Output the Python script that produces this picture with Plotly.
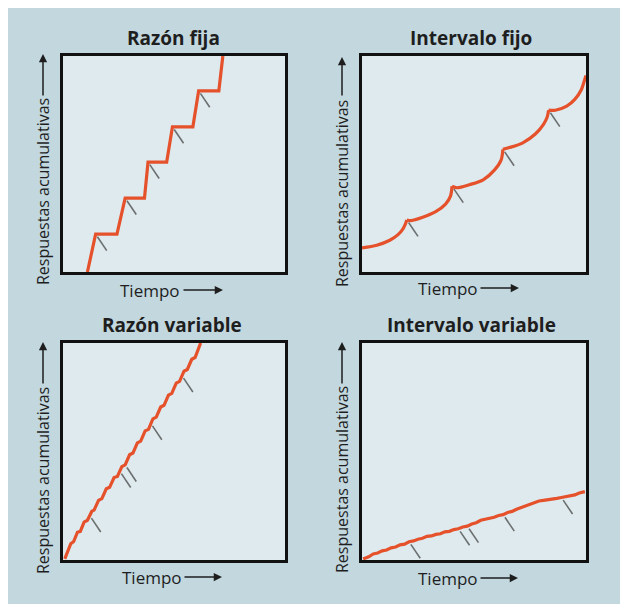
import plotly.graph_objects as go

# ---------------- data (normalised 0-100 units) -------------
titles = ["Razón fija", "Intervalo fijo", "Razón variable", "Intervalo variable"]
y_label = "Respuestas acumulativas"
x_label = "Tiempo"

# Razón fija (fixed ratio): staircase
fr_x = [11.0, 14.7, 24.3, 28.0, 36.7, 38.3, 46.7, 49.3, 58.5, 61.1, 70.2, 72.0]
fr_y = [0.0, 17.5, 17.5, 34.2, 34.2, 50.9, 50.9, 67.2, 67.2, 83.9, 83.9, 100.0]
fr_rx = [14.7, 28.0, 38.3, 49.3, 61.1]
fr_ry = [17.5, 34.2, 50.9, 67.2, 83.9]

# Intervalo fijo (fixed interval): scallops
fi_x = [0.0, 6.6, 12.4, 16.1, 18.3, 19.3, 20.0, 21.9, 27.1, 32.9, 37.3, 39.5, 40.2,
        42.4, 48.2, 54.1, 59.2, 62.1, 62.9, 65.8, 71.6, 77.5, 81.1, 82.6, 83.3,
        86.3, 91.4, 95.0, 97.9, 99.4, 100.0]
fi_y = [11.2, 12.4, 14.7, 17.3, 20.0, 22.0, 24.1, 23.8, 25.3, 27.9, 31.4, 35.1, 39.7,
        39.0, 40.5, 42.7, 47.3, 51.8, 56.8, 57.6, 59.7, 64.0, 68.5, 71.5, 74.9,
        74.9, 76.8, 79.9, 84.4, 89.0, 91.0]
fi_rx = [20.0, 40.2, 62.9, 83.3]
fi_ry = [24.1, 39.7, 56.8, 74.9]

# Razón variable (variable ratio): steep jagged line
vr_x = [0.8, 2.5, 3.5, 4.8, 5.6, 6.5, 7.8, 8.6, 9.5, 11.0, 12.0, 13.0, 14.0, 15.0, 16.0,
        17.5, 18.5, 19.5, 21.0, 22.0, 23.0, 24.5, 25.5, 26.5, 28.0, 29.0, 30.0, 31.5,
        32.5, 33.5, 35.0, 36.0, 37.0, 38.5, 39.5, 40.5, 42.0, 43.0, 44.0, 45.5, 46.5,
        47.5, 49.0, 50.0, 51.0, 52.5, 53.5, 54.5, 56.0, 57.0, 58.0, 59.5, 60.5, 61.5, 62.0]
vr_y = [0.5, 4.5, 7.5, 8.5, 11.0, 12.8, 13.2, 15.5, 17.5, 18.3, 20.5, 22.5, 23.0, 25.5,
        27.5, 28.3, 31.0, 32.8, 33.5, 36.0, 38.0, 38.5, 41.0, 43.0, 43.8, 46.5, 48.5,
        49.3, 52.0, 54.0, 54.8, 57.5, 59.5, 60.2, 63.0, 65.0, 65.8, 68.5, 70.5, 71.3,
        74.0, 76.0, 76.8, 79.5, 81.5, 82.3, 85.0, 87.0, 87.8, 90.5, 92.5, 93.3, 96.0,
        98.5, 100.0]
vr_rx = [12.0, 25.5, 28.0, 39.5, 53.5]
vr_ry = [20.5, 41.0, 43.8, 63.0, 85.0]

# Intervalo variable (variable interval): shallow jagged line
vi_x = [0.5, 3, 5, 7, 9, 11, 13, 15, 17, 19, 21, 23, 25, 27, 29, 31, 33, 35, 37, 39, 41,
        43, 45, 47, 49, 51, 53, 55, 57, 59, 61, 63, 65, 67, 69, 71, 73, 75, 77, 79, 81,
        83, 85, 87, 89, 91, 93, 95, 97, 99.5]
vi_y = [0.5, 1.5, 2.8, 3.2, 4.2, 4.6, 5.6, 6.0, 7.0, 7.3, 8.4, 8.8, 9.6, 10.0, 10.9,
        11.1, 11.8, 12.1, 13.0, 13.2, 14.0, 14.4, 15.2, 15.6, 16.6, 17.2, 18.3, 18.7,
        19.4, 19.7, 20.5, 20.9, 21.9, 22.4, 23.4, 24.2, 25.0, 25.6, 26.6, 27.2, 27.5,
        27.7, 28.0, 28.4, 28.8, 29.1, 29.6, 30.0, 30.9, 31.5]
vi_rx = [21.0, 43.0, 47.0, 63.0, 89.0]
vi_ry = [8.4, 14.4, 15.6, 20.9, 28.8]

series = [(fr_x, fr_y, fr_rx, fr_ry, "linear"), (fi_x, fi_y, fi_rx, fi_ry, "spline"),
          (vr_x, vr_y, vr_rx, vr_ry, "linear"), (vi_x, vi_y, vi_rx, vi_ry, "linear")]

# ---------------- layout geometry (pixels; page body adds an 8px margin) -------------
W, H = 620, 596
def px(x): return x / W
def py(y): return 1 - y / H

boxes = [  # inner plot areas: (x0, x1, y_top, y_bottom)
    (55, 277, 48, 264),
    (354, 578, 48, 264),
    (55, 277, 335, 552),
    (354, 578, 335, 552),
]
title_pos = [(165, 30), (463, 30), (164, 317), (463, 317)]
ylab_pos = [(35, 184, 89, 46), (334, 186, 89, 49), (35, 473, 377, 334), (334, 472, 377, 334)]
xlab_pos = [(142, 282, 174, 215), (440, 280, 471, 511), (144, 569, 175, 214), (440, 570, 471, 510)]

LINE = "#e5512b"
SLASH = "#6b6f70"
TXT = "#1e1e1e"
FONT = "Open Sans"

fig = go.Figure()
layout = dict(width=W, height=H, margin=dict(l=0, r=0, t=0, b=0),
              paper_bgcolor="#c2d7de", plot_bgcolor="#dfeaee", showlegend=False)
annotations = []

for i, ((xs, ys, rx, ry, shape), (x0, x1, y0, y1)) in enumerate(zip(series, boxes)):
    n = "" if i == 0 else str(i + 1)
    xa, ya = "x" + n, "y" + n
    axis_common = dict(range=[0, 100], showgrid=False, zeroline=False, showticklabels=False,
                       ticks="", showline=True, mirror=True, linewidth=3, linecolor="#111111",
                       fixedrange=True)
    layout["xaxis" + n] = dict(axis_common, domain=[px(x0), px(x1)], anchor=ya)
    layout["yaxis" + n] = dict(axis_common, domain=[py(y1), py(y0)], anchor=xa)

    # reinforcement slashes (drawn just below-right of each reinforcement point)
    sx, sy = [], []
    for a, b in zip(rx, ry):
        sx += [a + 0.8, a + 5.0, None]
        sy += [b - 1.2, b - 7.6, None]
    fig.add_trace(go.Scatter(x=sx, y=sy, mode="lines", xaxis=xa, yaxis=ya,
                             line=dict(color=SLASH, width=1.6), hoverinfo="skip"))

    # main record; scalloped record is split at the reinforcement cusps
    if shape == "spline":
        cuts = [0] + [xs.index(a) for a in rx] + [len(xs) - 1]
        for s, e in zip(cuts[:-1], cuts[1:]):
            fig.add_trace(go.Scatter(x=xs[s:e + 1], y=ys[s:e + 1], mode="lines", xaxis=xa, yaxis=ya,
                                     line=dict(color=LINE, width=3.2, shape="spline", smoothing=0.8),
                                     hoverinfo="skip"))
    else:
        fig.add_trace(go.Scatter(x=xs, y=ys, mode="lines", xaxis=xa, yaxis=ya,
                                 line=dict(color=LINE, width=3.2), hoverinfo="skip"))

    tx, ty = title_pos[i]
    annotations.append(dict(text="<b>" + titles[i] + "</b>", xref="paper", yref="paper",
                            x=px(tx), y=py(ty), showarrow=False, xanchor="center", yanchor="middle",
                            font=dict(family=FONT, size=19, color=TXT)))
    lx, ly, ay0, ay1 = ylab_pos[i]
    annotations.append(dict(text=y_label, xref="paper", yref="paper", x=px(lx), y=py(ly),
                            textangle=-90, showarrow=False, xanchor="center", yanchor="middle",
                            font=dict(family=FONT, size=16, color=TXT)))
    annotations.append(dict(text="", xref="paper", yref="paper", x=px(lx), y=py(ay1),
                            ax=0, ay=ay0 - ay1, axref="pixel", ayref="pixel", showarrow=True,
                            arrowhead=2, arrowsize=1.1, arrowwidth=1.5, arrowcolor=TXT))
    tx2, ty2, ax0, ax1 = xlab_pos[i]
    annotations.append(dict(text=x_label, xref="paper", yref="paper", x=px(tx2), y=py(ty2),
                            showarrow=False, xanchor="center", yanchor="middle",
                            font=dict(family=FONT, size=17, color=TXT)))
    annotations.append(dict(text="", xref="paper", yref="paper", x=px(ax1), y=py(ty2),
                            ax=ax0 - ax1, ay=0, axref="pixel", ayref="pixel", showarrow=True,
                            arrowhead=2, arrowsize=1.1, arrowwidth=1.5, arrowcolor=TXT))

layout["annotations"] = annotations
fig.update_layout(**layout)
fig.write_html("out.html")
